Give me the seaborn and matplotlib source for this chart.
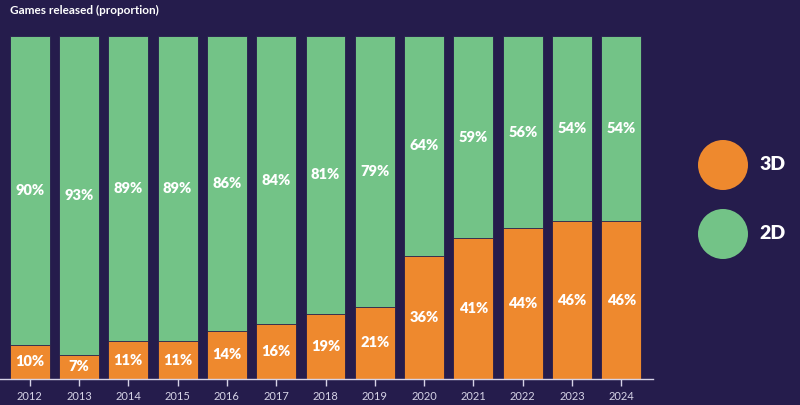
import matplotlib
matplotlib.use("Agg")
import matplotlib.pyplot as plt
import seaborn as sns
import pandas as pd
import numpy as np
from matplotlib.patches import Circle

years = ["2012", "2013", "2014", "2015", "2016", "2017", "2018", "2019",
         "2020", "2021", "2022", "2023", "2024"]
share_3d = [10, 7, 11, 11, 14, 16, 19, 21, 36, 41, 44, 46, 46]
share_2d = [90, 93, 89, 89, 86, 84, 81, 79, 64, 59, 56, 54, 54]

BG = "#251C4C"
ORANGE = "#EE892E"
GREEN = "#73C387"
TXT = "#FFFFFF"
TICK = "#D6D3E6"

sns.set_theme(style="white")
plt.rcParams["font.family"] = ["Lato", "DejaVu Sans"]

df = pd.DataFrame({"year": years, "d3": share_3d, "d2": share_2d})
df["total"] = df["d3"] + df["d2"]

fig = plt.figure(figsize=(8, 4.05), dpi=100, facecolor=BG)
ax = fig.add_axes([5 / 800, 26 / 405, 641 / 800, 343 / 405])
ax.set_facecolor(BG)

sns.barplot(data=df, x="year", y="total", color=GREEN, saturation=1,
            width=0.81, edgecolor=BG, linewidth=0.6, ax=ax)
sns.barplot(data=df, x="year", y="d3", color=ORANGE, saturation=1,
            width=0.81, edgecolor=BG, linewidth=0.6, ax=ax)

ax.set_xlim(-0.5, 12.5)
ax.set_ylim(0, 100)
ax.set_xlabel("")
ax.set_ylabel("")
ax.set_yticks([])
for s in ["top", "right", "left"]:
    ax.spines[s].set_visible(False)
ax.spines["bottom"].set_color(TICK)
ax.spines["bottom"].set_linewidth(1.0)
ax.spines["bottom"].set_bounds(-0.62, 12.65)
ax.tick_params(axis="x", colors=TICK, length=5, width=1, direction="out",
               labelsize=8, pad=4, bottom=True)
for lab in ax.get_xticklabels():
    lab.set_color(TICK)

for i, (a, b) in enumerate(zip(share_3d, share_2d)):
    ax.text(i, a / 2, f"{a}%", ha="center", va="center", color=TXT,
            fontsize=10.5, fontweight="heavy")
    ax.text(i, a + b / 2, f"{b}%", ha="center", va="center", color=TXT,
            fontsize=10.5, fontweight="heavy")

fig.text(10 / 800, 1 - 10 / 405, "Games released (proportion)", color=TXT,
         fontsize=8.5, fontweight="bold", ha="left", va="center")

tr = fig.dpi_scale_trans
for label, col, cy in [("3D", ORANGE, 165), ("2D", GREEN, 234)]:
    fig.add_artist(Circle((7.23, (405 - cy) / 100), 0.25, transform=tr,
                          facecolor=col, edgecolor="none"))
    fig.text(759 / 800, 1 - cy / 405, label, color=TXT, fontsize=14,
             fontweight="heavy", ha="left", va="center")

fig.savefig("out.png", dpi=100, facecolor=BG)
